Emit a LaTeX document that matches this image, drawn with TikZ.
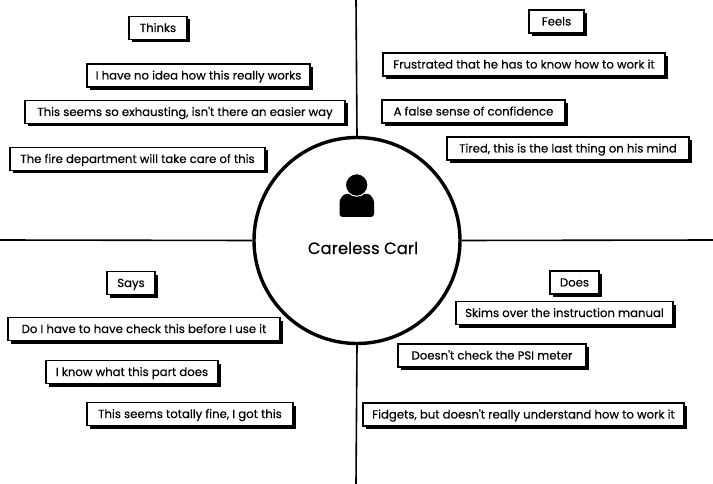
\documentclass[tikz,border=0pt]{standalone}
\usepackage{fontspec}
\setmainfont{Poppins}[FakeBold=0.25]
\usetikzlibrary{shadows}
\tikzset{note/.style={draw,fill=white,line width=1.3pt,minimum height=23pt,inner sep=0pt,text height=8pt,text depth=0pt,font=\fontsize{11.7}{13}\selectfont,drop shadow={shadow xshift=3pt,shadow yshift=-3pt,fill=black,opacity=1}},
  quad/.style={line width=1.6pt}}
\begin{document}
\begin{tikzpicture}[x=1pt,y=-1pt]
  \useasboundingbox (0,0) rectangle (713,484);
  \coordinate (top) at (356,0);
  \coordinate (bottom) at (356,484);
  \coordinate (left) at (0,240);
  \coordinate (right) at (713,240);
  \node[circle,draw,line width=3.4pt,fill=white,minimum size=206pt,inner sep=0pt] (hub) at (357,240.5) {};
  \draw[quad] (top) -- (hub.north);
  \draw[quad] (hub.south) -- (bottom);
  \draw[quad] (left) -- (hub.west);
  \draw[quad] (hub.east) -- (right);
  % person icon
  \fill[rounded corners=3pt] (339.5,217) -- (339.5,205) to[out=90,in=180] (349,194) -- (365,194) to[out=0,in=90] (374,205) -- (374,217) -- cycle;
  \node[circle,fill=black,draw=white,line width=1pt,minimum size=22.5pt,inner sep=0pt] (head) at (356.7,185) {};
  \node[font=\fontsize{16.5}{18}\selectfont] (name) at (363,248) {Careless Carl};
  % thinks
  \node[note,minimum width=58pt] (thinks) at (158,28) {Thinks};
  \node[note,minimum width=223pt] (idea) at (198.5,75.5) {I have no idea how this really works};
  \node[note,minimum width=320pt] (exhausting) at (185,112) {This seems so exhausting, isn\textquotesingle t there an easier way};
  \node[note,minimum width=255pt] (department) at (137.5,159) {The fire department will take care of this};
  % feels
  \node[note,minimum width=55pt] (feels) at (556.5,21.5) {Feels};
  \node[note,minimum width=282pt] (frustrated) at (524,64.5) {Frustrated that he has to know how to work it};
  \node[note,minimum width=183pt] (confidence) at (473.5,111.5) {A false sense of confidence};
  \node[note,minimum width=242pt] (tired) at (568,148.5) {Tired, this is the last thing on his mind};
  % says
  \node[note,minimum width=48pt] (says) at (131,283) {Says};
  \node[note,minimum width=272pt] (check) at (144,329) {Do I have to have check this before I use it};
  \node[note,minimum width=172pt] (part) at (132,372) {I know what this part does};
  \node[note,minimum width=206pt] (fine) at (190,414) {This seems totally fine, I got this};
  % does
  \node[note,minimum width=49pt] (does) at (574.5,282.5) {Does};
  \node[note,minimum width=217pt] (manual) at (564.5,313) {Skims over the instruction manual};
  \node[note,minimum width=188pt] (meter) at (492,355.5) {Doesn\textquotesingle t check the PSI meter};
  \node[note,minimum width=321pt] (fidgets) at (523.5,414.5) {Fidgets, but doesn\textquotesingle t really understand how to work it};
\end{tikzpicture}
\end{document}
